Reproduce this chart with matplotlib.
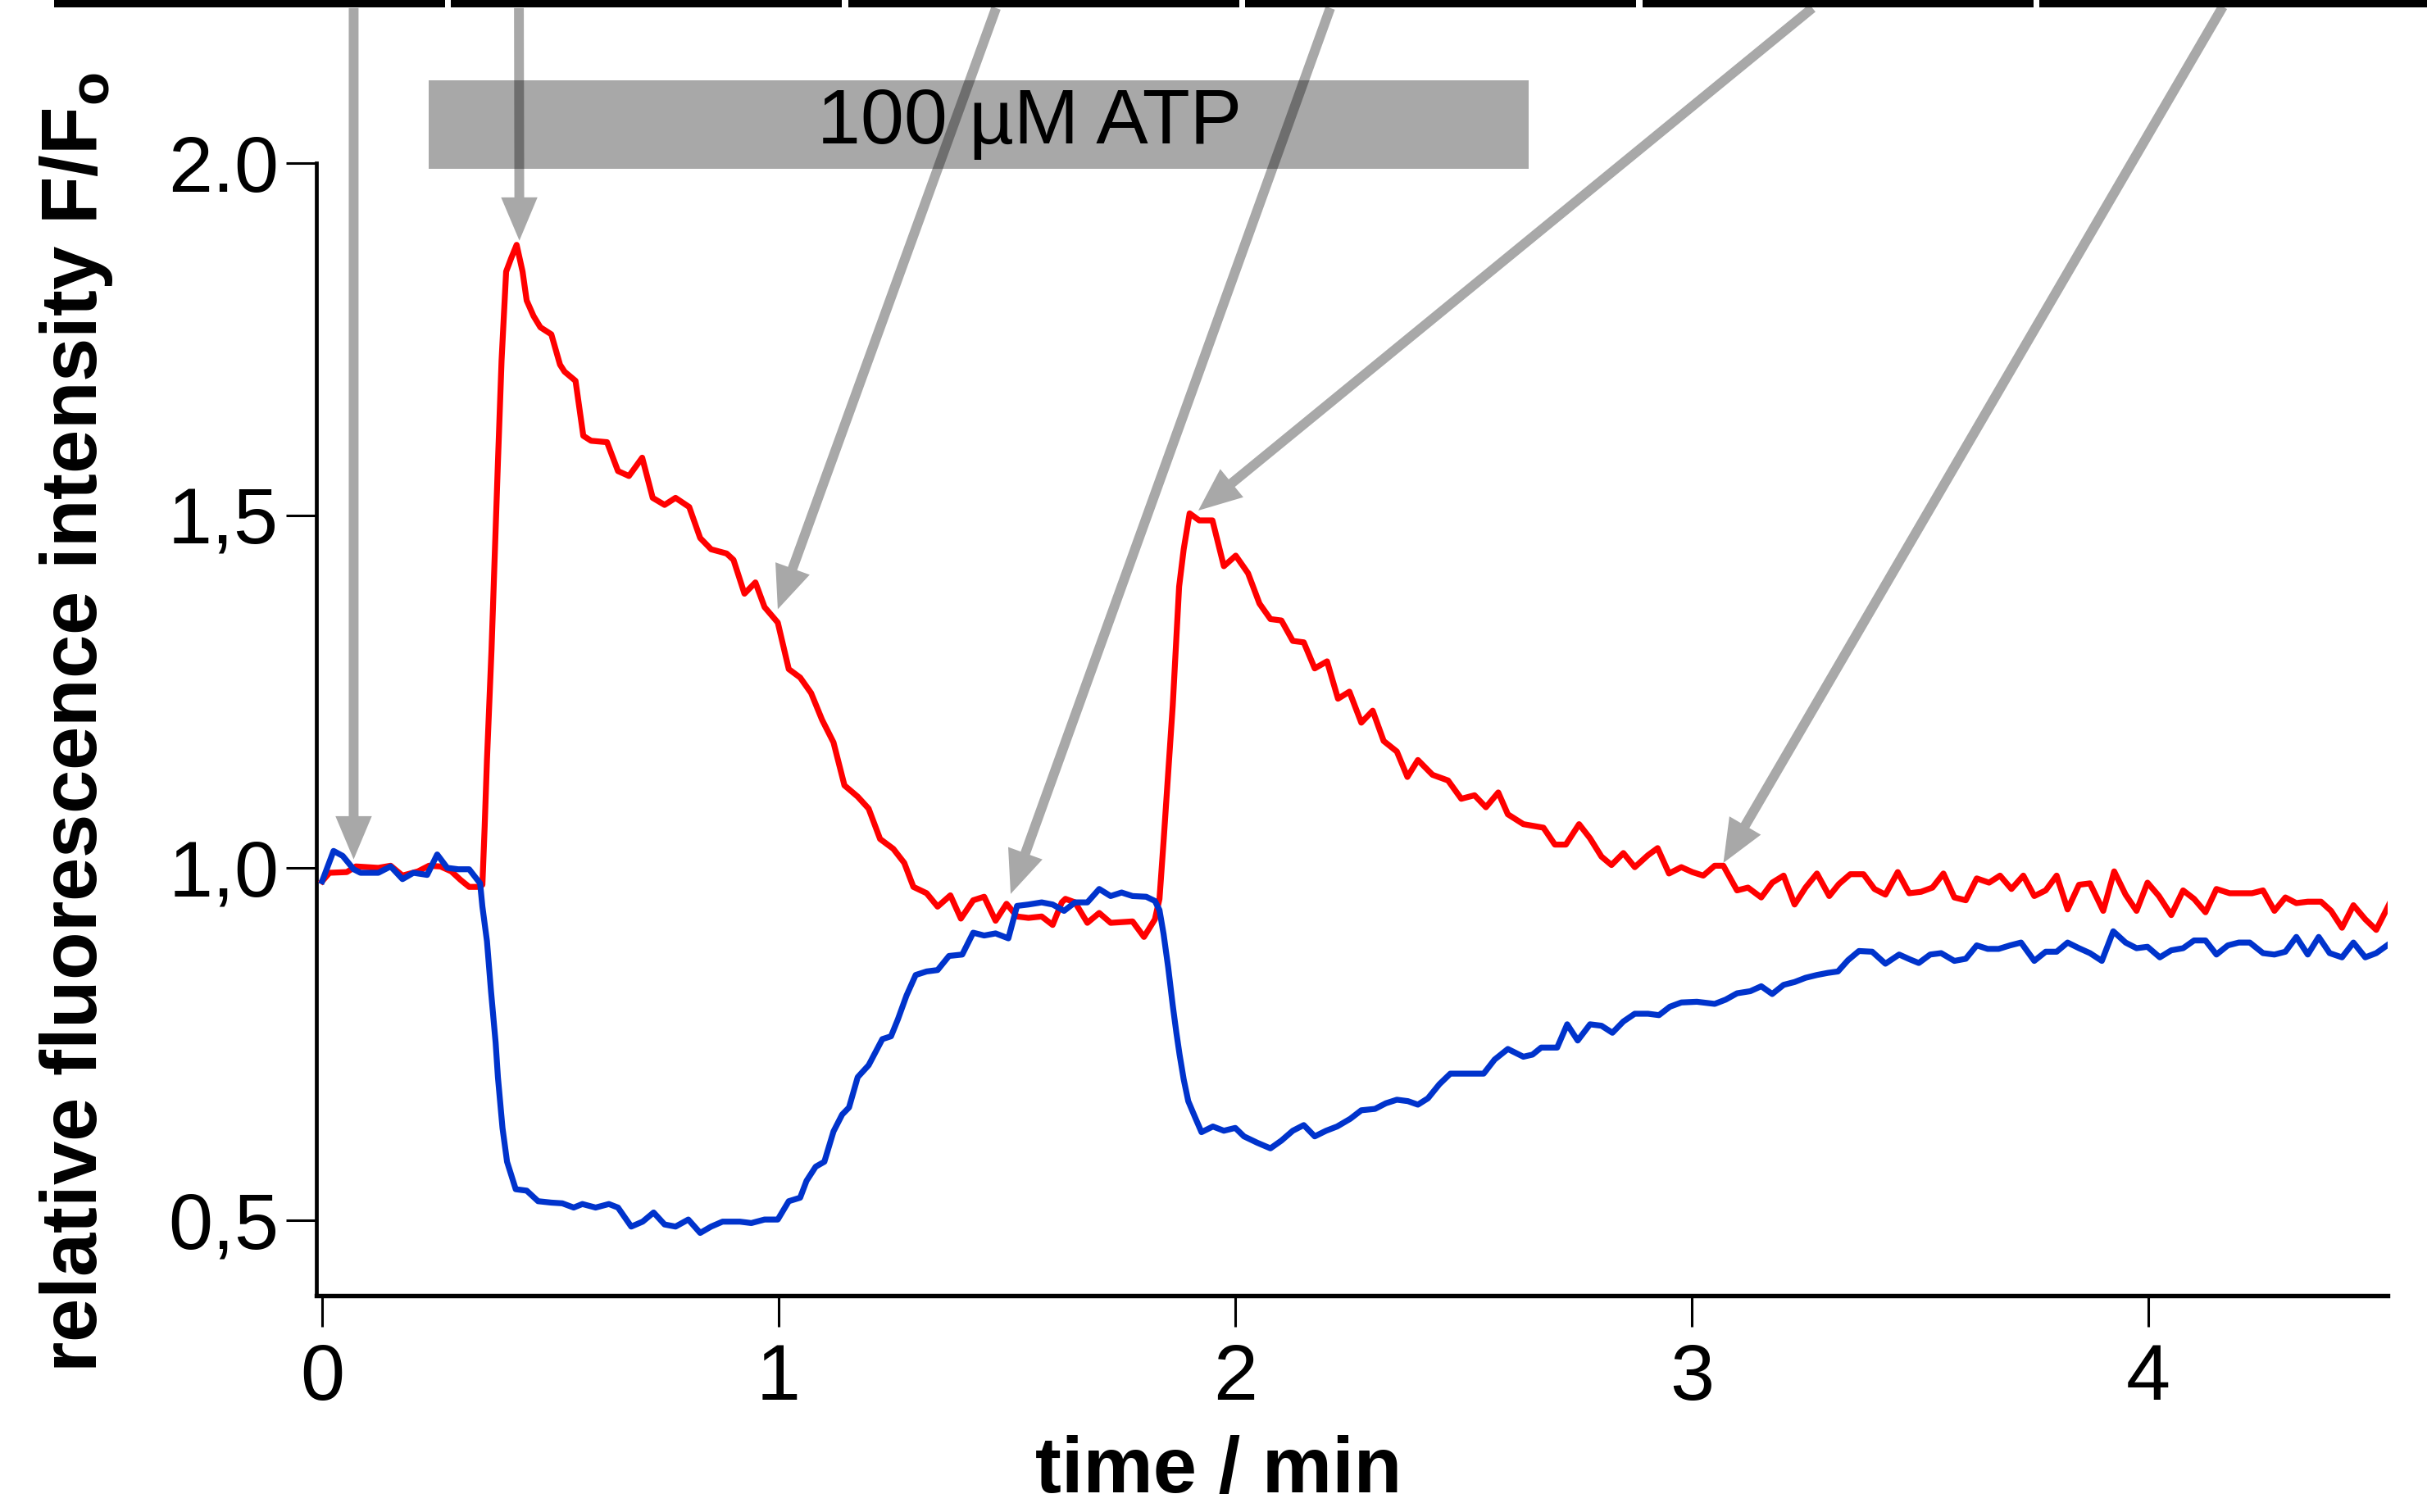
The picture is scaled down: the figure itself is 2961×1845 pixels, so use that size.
import matplotlib.pyplot as plt
from matplotlib.patches import Rectangle

plt.rcParams['font.family'] = ['Liberation Sans', 'DejaVu Sans']

# traces: time in min, F/Fo
red_t = [0.000, 0.016, 0.054, 0.074, 0.123, 0.150, 0.176, 0.210, 0.234, 0.259,
         0.283, 0.303, 0.322, 0.344, 0.351, 0.356, 0.361, 0.371, 0.377, 0.385,
         0.393, 0.403, 0.414, 0.426, 0.439, 0.448, 0.463, 0.478, 0.502, 0.521,
         0.531, 0.555, 0.572, 0.589, 0.624, 0.648, 0.672, 0.701, 0.724, 0.750,
         0.774, 0.804, 0.828, 0.852, 0.886, 0.901, 0.925, 0.949, 0.969, 0.998,
         1.022, 1.047, 1.071, 1.095, 1.120, 1.144, 1.173, 1.197, 1.222, 1.251,
         1.275, 1.295, 1.324, 1.348, 1.376, 1.399, 1.426, 1.450, 1.475, 1.499,
         1.522, 1.547, 1.576, 1.600, 1.620, 1.628, 1.649, 1.676, 1.702, 1.727,
         1.775, 1.800, 1.824, 1.834, 1.843, 1.853, 1.863, 1.871, 1.877, 1.887,
         1.900, 1.921, 1.950, 1.975, 2.001, 2.028, 2.053, 2.077, 2.101, 2.126,
         2.150, 2.174, 2.201, 2.225, 2.250, 2.276, 2.301, 2.325, 2.354, 2.377,
         2.400, 2.432, 2.466, 2.495, 2.524, 2.549, 2.576, 2.597, 2.631, 2.675,
         2.700, 2.724, 2.753, 2.777, 2.802, 2.824, 2.850, 2.875, 2.904, 2.925,
         2.950, 2.977, 3.001, 3.025, 3.050, 3.069, 3.099, 3.123, 3.152, 3.176,
         3.201, 3.225, 3.249, 3.274, 3.301, 3.322, 3.347, 3.376, 3.400, 3.424,
         3.451, 3.476, 3.502, 3.527, 3.551, 3.575, 3.600, 3.624, 3.651, 3.675,
         3.700, 3.726, 3.750, 3.775, 3.799, 3.823, 3.848, 3.872, 3.901, 3.925,
         3.950, 3.974, 3.998, 4.023, 4.050, 4.076, 4.100, 4.125, 4.149, 4.178,
         4.227, 4.251, 4.276, 4.300, 4.324, 4.349, 4.378, 4.400, 4.424, 4.449,
         4.475, 4.499, 4.527]
red_v = [0.981, 0.993, 0.994, 1.002, 1.000, 1.003, 0.989, 0.995, 1.003, 1.002,
         0.995, 0.983, 0.973, 0.973, 0.976, 1.059, 1.153, 1.310, 1.424, 1.575,
         1.720, 1.846, 1.865, 1.884, 1.846, 1.805, 1.783, 1.767, 1.757, 1.714,
         1.704, 1.691, 1.613, 1.606, 1.604, 1.563, 1.556, 1.582, 1.525, 1.515,
         1.525, 1.512, 1.468, 1.452, 1.446, 1.437, 1.389, 1.405, 1.370, 1.348,
         1.282, 1.270, 1.248, 1.210, 1.178, 1.117, 1.101, 1.084, 1.041, 1.027,
         1.007, 0.973, 0.964, 0.945, 0.961, 0.928, 0.954, 0.959, 0.925, 0.949,
         0.931, 0.929, 0.931, 0.919, 0.951, 0.956, 0.951, 0.922, 0.936, 0.922,
         0.924, 0.902, 0.927, 0.956, 1.038, 1.134, 1.230, 1.327, 1.399, 1.452,
         1.503, 1.493, 1.493, 1.428, 1.443, 1.418, 1.375, 1.353, 1.351, 1.322,
         1.320, 1.283, 1.293, 1.240, 1.250, 1.206, 1.223, 1.180, 1.165, 1.129,
         1.153, 1.132, 1.124, 1.098, 1.103, 1.086, 1.107, 1.076, 1.062, 1.057,
         1.033, 1.033, 1.062, 1.042, 1.016, 1.004, 1.021, 1.001, 1.018, 1.028,
         0.992, 1.001, 0.994, 0.989, 1.003, 1.003, 0.968, 0.972, 0.958, 0.979,
         0.989, 0.948, 0.972, 0.992, 0.960, 0.977, 0.991, 0.991, 0.970, 0.962,
         0.994, 0.964, 0.966, 0.972, 0.992, 0.958, 0.954, 0.985, 0.979, 0.989,
         0.970, 0.989, 0.960, 0.968, 0.989, 0.941, 0.976, 0.978, 0.939, 0.995,
         0.962, 0.939, 0.979, 0.960, 0.933, 0.968, 0.956, 0.937, 0.970, 0.964,
         0.964, 0.968, 0.939, 0.958, 0.950, 0.952, 0.952, 0.939, 0.915, 0.947,
         0.927, 0.912, 0.948]

blue_t = [0.000, 0.025, 0.045, 0.069, 0.084, 0.123, 0.150, 0.176, 0.200, 0.230,
          0.252, 0.274, 0.298, 0.322, 0.346, 0.351, 0.361, 0.370, 0.380, 0.385,
          0.395, 0.405, 0.424, 0.448, 0.473, 0.502, 0.526, 0.551, 0.570, 0.599,
          0.628, 0.648, 0.677, 0.702, 0.726, 0.750, 0.774, 0.802, 0.828, 0.852,
          0.877, 0.915, 0.940, 0.969, 0.998, 1.022, 1.047, 1.061, 1.081, 1.100,
          1.120, 1.139, 1.154, 1.173, 1.197, 1.227, 1.246, 1.261, 1.280, 1.300,
          1.324, 1.348, 1.373, 1.402, 1.426, 1.450, 1.475, 1.503, 1.522, 1.547,
          1.576, 1.600, 1.625, 1.649, 1.676, 1.702, 1.727, 1.751, 1.775, 1.805,
          1.824, 1.834, 1.843, 1.853, 1.863, 1.871, 1.878, 1.887, 1.897, 1.912,
          1.926, 1.951, 1.975, 2.000, 2.019, 2.048, 2.077, 2.101, 2.126, 2.150,
          2.174, 2.199, 2.223, 2.252, 2.276, 2.306, 2.330, 2.354, 2.378, 2.400,
          2.422, 2.447, 2.471, 2.500, 2.544, 2.568, 2.597, 2.631, 2.651, 2.670,
          2.705, 2.727, 2.750, 2.777, 2.802, 2.826, 2.850, 2.875, 2.904, 2.928,
          2.952, 2.977, 3.011, 3.050, 3.074, 3.099, 3.128, 3.152, 3.176, 3.201,
          3.225, 3.249, 3.274, 3.298, 3.320, 3.342, 3.366, 3.395, 3.424, 3.454,
          3.478, 3.497, 3.522, 3.546, 3.575, 3.600, 3.624, 3.648, 3.672, 3.697,
          3.721, 3.750, 3.775, 3.799, 3.823, 3.848, 3.872, 3.898, 3.923, 3.950,
          3.974, 3.998, 4.025, 4.050, 4.076, 4.100, 4.125, 4.149, 4.174, 4.198,
          4.222, 4.251, 4.276, 4.300, 4.324, 4.349, 4.373, 4.397, 4.424, 4.449,
          4.475, 4.499, 4.527]
blue_v = [0.981, 1.024, 1.017, 0.998, 0.993, 0.993, 1.002, 0.984, 0.993, 0.990,
          1.019, 1.000, 0.998, 0.998, 0.978, 0.945, 0.896, 0.824, 0.752, 0.703,
          0.631, 0.583, 0.544, 0.542, 0.527, 0.525, 0.524, 0.518, 0.523, 0.518,
          0.523, 0.518, 0.491, 0.498, 0.511, 0.494, 0.491, 0.501, 0.482, 0.491,
          0.498, 0.498, 0.496, 0.501, 0.501, 0.527, 0.532, 0.556, 0.576, 0.583,
          0.626, 0.650, 0.660, 0.703, 0.720, 0.757, 0.761, 0.785, 0.819, 0.848,
          0.853, 0.855, 0.875, 0.877, 0.908, 0.904, 0.907, 0.900, 0.946, 0.948,
          0.951, 0.948, 0.939, 0.951, 0.951, 0.970, 0.960, 0.965, 0.960, 0.959,
          0.953, 0.940, 0.906, 0.859, 0.805, 0.766, 0.735, 0.700, 0.669, 0.646,
          0.625, 0.633, 0.627, 0.631, 0.619, 0.610, 0.602, 0.613, 0.627, 0.635,
          0.619, 0.627, 0.633, 0.644, 0.656, 0.658, 0.666, 0.671, 0.669, 0.664,
          0.673, 0.693, 0.708, 0.708, 0.708, 0.728, 0.743, 0.732, 0.735, 0.745,
          0.745, 0.778, 0.755, 0.778, 0.776, 0.766, 0.782, 0.793, 0.793, 0.791,
          0.803, 0.809, 0.810, 0.807, 0.813, 0.822, 0.825, 0.832, 0.821, 0.834,
          0.838, 0.844, 0.848, 0.851, 0.853, 0.869, 0.882, 0.881, 0.864, 0.877,
          0.870, 0.865, 0.877, 0.879, 0.868, 0.871, 0.890, 0.885, 0.885, 0.890,
          0.894, 0.868, 0.881, 0.881, 0.894, 0.886, 0.879, 0.868, 0.910, 0.894,
          0.886, 0.888, 0.873, 0.883, 0.886, 0.897, 0.897, 0.877, 0.890, 0.894,
          0.894, 0.879, 0.877, 0.881, 0.902, 0.877, 0.902, 0.879, 0.873, 0.894,
          0.873, 0.879, 0.892]

atp_start, atp_end = 0.233, 2.643
atp_label = '100 µM ATP'

# arrows from the image frames above down to the matching time points
arrow_tips = [(0.069, 1.012), (0.432, 1.890), (0.998, 1.367),
              (1.508, 0.963), (1.919, 1.507), (3.069, 1.007)]
arrow_tails = [(0.069, 2.22), (0.431, 2.22), (1.476, 2.22),
               (2.208, 2.22), (3.264, 2.22), (4.163, 2.222)]

W, H = 2961, 1845
fig = plt.figure(figsize=(W / 100, H / 100), dpi=100)
ax = fig.add_axes([386 / W, 1 - 1581 / H, (2913 - 386) / W, (1581 - 199) / H])

ax.plot(red_t, red_v, color='#ff0000', lw=5.2, zorder=3)
ax.plot(blue_t, blue_v, color='#0033cc', lw=5.2, zorder=4)

ax.set_xlim(-0.0126, 4.524)
ax.set_ylim(0.393, 2.0)

ax.set_xticks([0, 1, 2, 3, 4])
ax.set_xticklabels(['0', '1', '2', '3', '4'])
ax.set_yticks([0.5, 1.0, 1.5, 2.0])
ax.set_yticklabels(['0,5', '1,0', '1,5', '2.0'])
ax.tick_params(axis='both', direction='out', length=27, width=2.2,
               labelsize=70, color='black')
ax.tick_params(axis='x', pad=14)
ax.tick_params(axis='y', pad=6)

for side in ['top', 'right']:
    ax.spines[side].set_visible(False)
ax.spines['left'].set_linewidth(3.4)
ax.spines['bottom'].set_linewidth(3.9)

# ATP application bar
ax.add_patch(Rectangle((atp_start, 1.992), atp_end - atp_start, 0.125,
                       facecolor='black', edgecolor='none', alpha=0.34,
                       clip_on=False, zorder=5))
ax.text(1.549, 2.056, atp_label, fontsize=68.5, ha='center', va='center',
        zorder=6, clip_on=False)

for tip, tail in zip(arrow_tips, arrow_tails):
    ax.annotate('', xy=tip, xytext=tail, annotation_clip=False,
                arrowprops=dict(arrowstyle='simple,head_length=3.8,head_width=3.2,tail_width=0.86',
                                mutation_scale=10, fc='black', ec='none',
                                alpha=0.34, shrinkA=0, shrinkB=0),
                zorder=7)

# bottom edges of the image frames along the top
for i in range(6):
    x0 = 66 + i * 484.4
    fig.add_artist(Rectangle((x0 / W, 1 - 8.5 / H), 477 / W, 8.5 / H,
                             transform=fig.transFigure, facecolor='black',
                             edgecolor='none'))

fig.text(118 / W, 1 - 882 / H, r'relative fluorescence intensity F/F$_\mathregular{o}$',
         rotation=90, rotation_mode='anchor', ha='center', va='baseline',
         fontsize=69, fontweight='bold')
fig.text(1487 / W, 4 / H, 'time / min', ha='center', va='bottom',
         fontsize=69, fontweight='bold')

fig.savefig('out.png', dpi=100)
